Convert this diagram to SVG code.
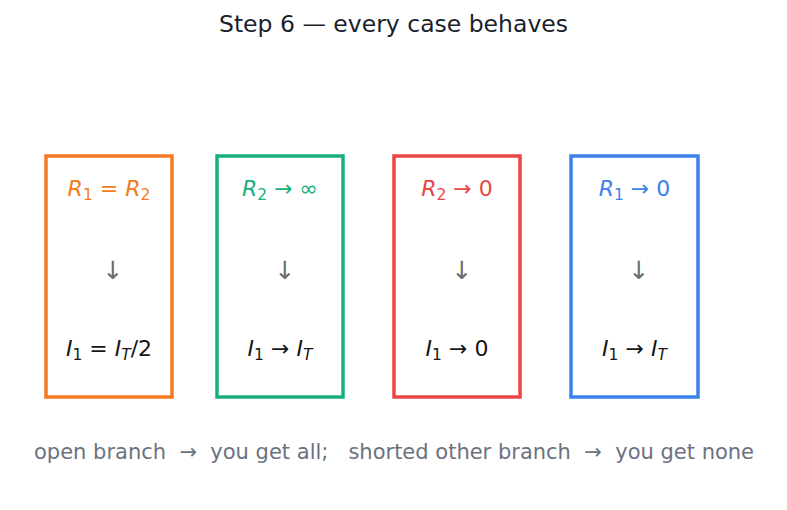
<svg xmlns="http://www.w3.org/2000/svg" width="787" height="510" viewBox="0 0 787 510">
<style>
text{font-family:"DejaVu Sans","Liberation Sans",sans-serif}
.title{font-size:23.5px;fill:#1a1f2b;text-anchor:middle}
.box{fill:#fff;stroke-width:3.5}
.m{font-size:22px;text-anchor:middle}
.i{font-style:italic}
.s{font-size:15.5px}
.arr{font-size:25px;fill:#6b6b6b;text-anchor:middle}
.res{fill:#161616}
.foot{font-size:21px;fill:#6b7280;text-anchor:middle;white-space:pre}
</style>
<rect width="787" height="510" fill="#fff"/>
<text class="title" x="393.5" y="32">Step 6 — every case behaves</text>
<g id="case1">
<rect class="box" x="46" y="156" width="126" height="241" stroke="#f47b20"/>
<text class="m" x="109" y="196" fill="#f47b20"><tspan class="i">R</tspan><tspan class="s" dy="4">1</tspan><tspan dy="-4"> = </tspan><tspan class="i">R</tspan><tspan class="s" dy="4">2</tspan></text>
<text class="arr" x="113" y="279">↓</text>
<text class="m res" x="109" y="356"><tspan class="i">I</tspan><tspan class="s" dy="4">1</tspan><tspan dy="-4"> = </tspan><tspan class="i">I</tspan><tspan class="s i" dy="4">T</tspan><tspan dy="-4">/2</tspan></text>
</g>
<g id="case2">
<rect class="box" x="217" y="156" width="126" height="241" stroke="#17b07d"/>
<text class="m" x="280" y="196" fill="#17b07d"><tspan class="i">R</tspan><tspan class="s" dy="4">2</tspan><tspan dy="-4"> → ∞</tspan></text>
<text class="arr" x="285" y="279">↓</text>
<text class="m res" x="280" y="356"><tspan class="i">I</tspan><tspan class="s" dy="4">1</tspan><tspan dy="-4"> → </tspan><tspan class="i">I</tspan><tspan class="s i" dy="4">T</tspan></text>
</g>
<g id="case3">
<rect class="box" x="394" y="156" width="126" height="241" stroke="#ea4646"/>
<text class="m" x="457" y="196" fill="#ea4646"><tspan class="i">R</tspan><tspan class="s" dy="4">2</tspan><tspan dy="-4"> → 0</tspan></text>
<text class="arr" x="462" y="279">↓</text>
<text class="m res" x="457" y="356"><tspan class="i">I</tspan><tspan class="s" dy="4">1</tspan><tspan dy="-4"> → 0</tspan></text>
</g>
<g id="case4">
<rect class="box" x="571" y="156" width="127" height="241" stroke="#3d82ec"/>
<text class="m" x="634.5" y="196" fill="#3d82ec"><tspan class="i">R</tspan><tspan class="s" dy="4">1</tspan><tspan dy="-4"> → 0</tspan></text>
<text class="arr" x="639" y="279">↓</text>
<text class="m res" x="634.5" y="356"><tspan class="i">I</tspan><tspan class="s" dy="4">1</tspan><tspan dy="-4"> → </tspan><tspan class="i">I</tspan><tspan class="s i" dy="4">T</tspan></text>
</g>
<g id="connectors"></g>
<text class="foot" x="394" y="459" xml:space="preserve">open branch  →  you get all;   shorted other branch  →  you get none</text>
</svg>
